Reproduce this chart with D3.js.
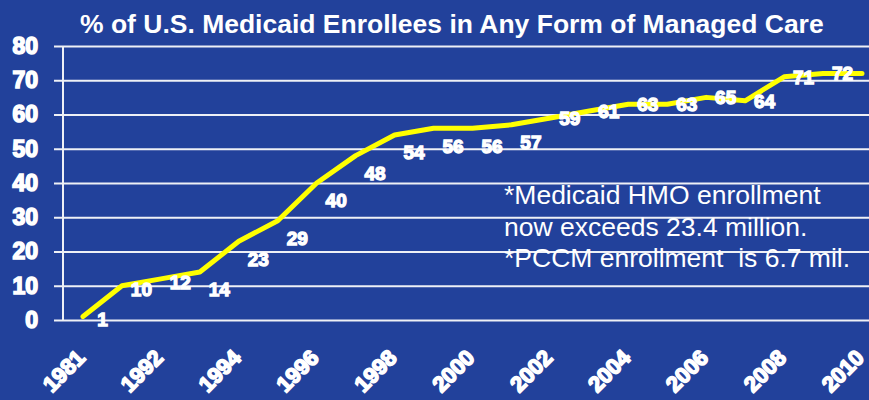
<!DOCTYPE html>
<html>
<head>
<meta charset="utf-8">
<script src="https://cdn.jsdelivr.net/npm/d3@7"></script>
<style>
  html, body { margin: 0; padding: 0; background: #22419b; }
  svg { display: block; }
  text { font-family: "Liberation Sans", Arial, sans-serif; }
</style>
</head>
<body>
<svg id="chart" width="869" height="400"></svg>
<script>
// ---- data ----
const categories = ["1981","1991","1992","1993","1994","1995","1996","1997","1998","1999","2000",
                    "2001","2002","2003","2004","2005","2006","2007","2008","2009","2010"];
const values = [1, 10, 12, 14, 23, 29, 40, 48, 54, 56, 56, 57, 59, 61, 63, 63, 65, 64, 71, 72, 72];
const pointLabels = ["1","10","12","14","23","29","40","48","54","56","56","57","59","61","63","63","65","64","71","72",""];
const xTickLabels = ["1981","1992","1994","1996","1998","2000","2002","2004","2006","2008","2010"];
const yTicks = [0, 10, 20, 30, 40, 50, 60, 70, 80];
const title = "% of U.S. Medicaid Enrollees in Any Form of Managed Care";
const notes = ["*Medicaid HMO enrollment", "now exceeds 23.4 million.", "*PCCM enrollment  is 6.7 mil."];

// ---- layout ----
const W = 869, H = 400;
const svg = d3.select("#chart");
svg.append("rect").attr("width", W).attr("height", H).attr("fill", "#22419b");

const x = d3.scalePoint().domain(categories).range([83, 862]);
const y = d3.scaleLinear().domain([0, 80]).range([320, 46]);

// gridlines + y labels
const yAxis = d3.axisLeft(y).tickValues(yTicks).tickSize(-(W - 54)).tickPadding(16).tickFormat(d3.format("d"));
const gy = svg.append("g").attr("transform", "translate(54,0)").call(yAxis);
gy.select(".domain").remove();
gy.selectAll(".tick line").attr("stroke", "#eef0f6").attr("stroke-width", 2);
gy.selectAll(".tick text")
  .attr("fill", "#fff").attr("stroke", "#fff").attr("stroke-width", 1.6)
  .style("font-size", "23px").style("font-weight", "bold");

// vertical axis line
svg.append("line").attr("x1", 63).attr("x2", 63).attr("y1", y(80)).attr("y2", y(0))
  .attr("stroke", "#eef0f6").attr("stroke-width", 2);

// x axis labels
const xAxis = d3.axisBottom(x).tickValues(xTickLabels).tickSize(0);
const gx = svg.append("g").attr("transform", "translate(0,320)").call(xAxis);
gx.select(".domain").remove();
gx.selectAll(".tick text")
  .attr("fill", "#fff").attr("stroke", "#fff").attr("stroke-width", 1.6)
  .style("font-size", "22px").style("font-weight", "bold")
  .attr("text-anchor", "end")
  .attr("y", 0).attr("dy", 0)
  .attr("transform", "translate(3,39) rotate(-45)");

// title
const t = svg.append("text").attr("x", 80).attr("y", 33).text(title)
  .attr("fill", "#fff").style("font-weight", "bold").style("font-size", "24px");
const tl = t.node().getComputedTextLength();
t.style("font-size", (24 * 744 / tl) + "px");

// line
const line = d3.line().x((d, i) => x(categories[i])).y(d => y(d)).curve(d3.curveLinear);
svg.append("path").datum(values).attr("d", line)
  .attr("fill", "none").attr("stroke", "#ffff00").attr("stroke-width", 5)
  .attr("stroke-linejoin", "round").attr("stroke-linecap", "round");

// point labels
const step = x.step();
svg.append("g").selectAll("text").data(values).join("text")
  .attr("x", (d, i) => x(categories[i]) + step / 2)
  .attr("y", (d, i) => {
    const yr = +categories[i];
    const dy = (yr >= 1993 && yr <= 2001) ? 17.5 : (yr < 1993 ? 3 : 0);
    return y(d) + dy;
  })
  .attr("dy", "0.36em")
  .attr("text-anchor", "middle")
  .attr("fill", "#fff").attr("stroke", "#fff").attr("stroke-width", 1.3)
  .style("font-size", "19px").style("font-weight", "bold")
  .text((d, i) => pointLabels[i]);

// notes
svg.append("g").selectAll("text").data(notes).join("text")
  .attr("x", 504).attr("y", (d, i) => 204 + i * 31.5)
  .attr("fill", "#fff").style("font-size", "26.5px").style("white-space", "pre")
  .text(d => d);
</script>
</body>
</html>
